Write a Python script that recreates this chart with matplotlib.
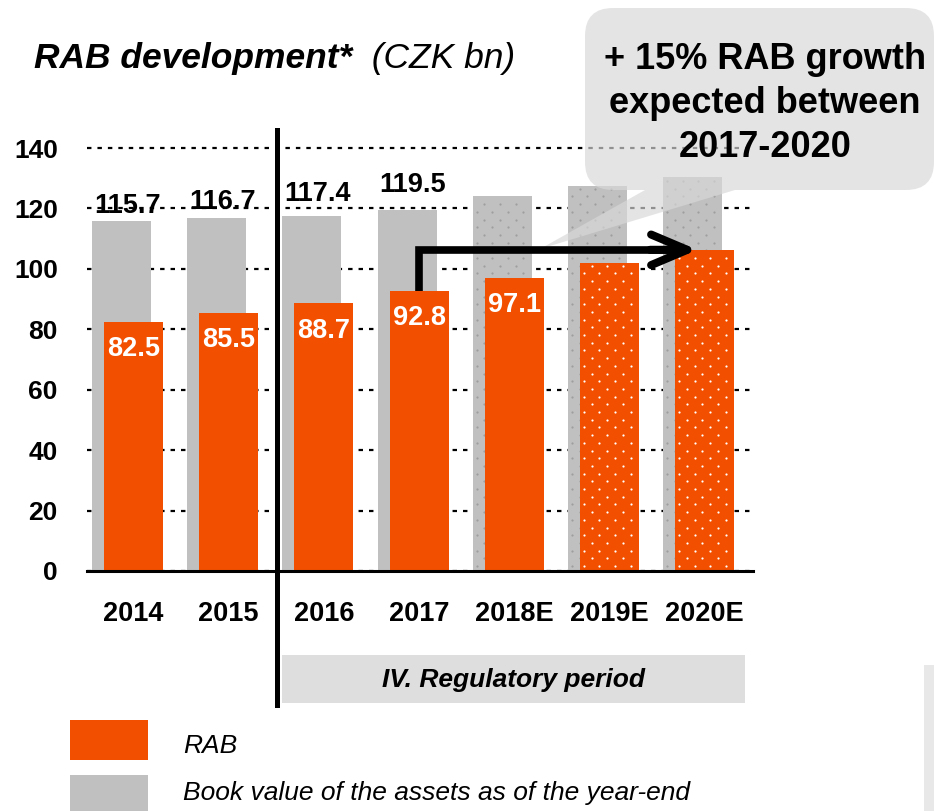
import numpy as np
import matplotlib.pyplot as plt
from matplotlib.patches import Rectangle, PathPatch
from matplotlib.path import Path
from matplotlib.lines import Line2D

plt.rcParams['font.family'] = ['Liberation Sans', 'DejaVu Sans']

# Data
years = ['2014', '2015', '2016', '2017', '2018E', '2019E', '2020E']
rab = [82.5, 85.5, 88.7, 92.8, 97.1, 102.0, 106.3]
book = [115.7, 116.7, 117.4, 119.5, 124.2, 127.5, 130.5]
rab_labels = ['82.5', '85.5', '88.7', '92.8', '97.1', '', '']
book_labels = ['115.7', '116.7', '117.4', '119.5', '', '', '']
yticks = [0, 20, 40, 60, 80, 100, 120, 140]
callout_lines = ['+ 15% RAB growth', 'expected between', '2017-2020']

# Styles
W, H = 934, 811
ORANGE = '#F25000'
GREY = '#C0C0C0'
book_pad = [6, 6.8, 10.8, 13.2]   # label offsets above the grey bars (pt)


def fx(px):
    return px / W


def fy(py):
    return 1 - py / H


fig = plt.figure(figsize=(W / 100, H / 100), dpi=100)
ax = fig.add_axes([fx(87), fy(571), (753 - 87) / W, (571 - 148) / H])

x = np.arange(len(years))
off = 0.063
bw = 0.62
grey_bars = ax.bar(x - off, book, bw, color=GREY, linewidth=0, zorder=2)
rab_bars = ax.bar(x + off, rab, bw, color=ORANGE, linewidth=0, zorder=3)

# axes styling (limits first, the dot texture below needs them)
ax.set_xlim((87 - 127.5) / 95.17, (753 - 127.5) / 95.17)
ax.set_ylim(0, 140)
ax.set_yticks(yticks)
ax.set_yticklabels([str(v) for v in yticks], fontsize=19, fontweight='bold')
ax.set_xticks(x + off)
ax.set_xticklabels(years, fontsize=19.5, fontweight='bold')
ax.tick_params(axis='y', length=0, pad=21)
ax.tick_params(axis='x', length=0, pad=21.5)
ax.yaxis.grid(True, color='black', linestyle=(0, (2.0, 2.7)), linewidth=1.6)
for gl in ax.get_ygridlines():
    gl.set_clip_on(False)
ax.set_axisbelow(True)
for s in ['left', 'right', 'top']:
    ax.spines[s].set_visible(False)
ax.spines['bottom'].set_linewidth(2.2)
ax.spines['bottom'].set_zorder(4)


def dot_texture(bar, color, z):
    # staggered dot grid inside the bar, like the estimate bars in the slide
    (px0, py0) = ax.transData.transform((bar.get_x(), 0))
    (px1, py1) = ax.transData.transform((bar.get_x() + bar.get_width(), bar.get_height()))
    pts = []
    for k, yy in enumerate(np.arange(py0 + 5, py1 - 2, 7.7)):
        for xx in np.arange(px0 + 4 + (7.8 if k % 2 else 0), px1 - 2, 15.6):
            pts.append((xx, yy))
    pts = ax.transData.inverted().transform(np.array(pts))
    ax.scatter(pts[:, 0], pts[:, 1], s=2.5, color=color, linewidths=0, zorder=z)


# estimates are dotted
for i, b in enumerate(grey_bars):
    if years[i].endswith('E'):
        dot_texture(b, '#9e9e9e', 2.1)
for i, b in enumerate(rab_bars):
    if years[i].endswith('E') and not rab_labels[i]:
        dot_texture(b, 'white', 3.1)

# value labels
for i, lab in enumerate(book_labels):
    if lab:
        ax.annotate(lab, (i, book[i]), xytext=(0, book_pad[i]),
                    textcoords='offset points', ha='center', va='baseline',
                    fontsize=19.5, fontweight='bold', zorder=4)
for i, lab in enumerate(rab_labels):
    if lab:
        ax.annotate(lab, (i + off, rab[i]), xytext=(0, -25),
                    textcoords='offset points', ha='center', va='baseline',
                    fontsize=19.5, fontweight='bold', color='white', zorder=4)

# callout bubble
L, R, T, B, r = 585, 934, 8, 190, 28
pts = [(L, T + r), (L, B - r), (L, B), (L + r, B), (645, B), (540, 249), (735, B),
       (R - r, B), (R, B), (R, B - r), (R, T + r), (R, T), (R - r, T),
       (L + r, T), (L, T), (L, T + r), (L, T + r)]
codes = [Path.MOVETO, Path.LINETO, Path.CURVE3, Path.CURVE3, Path.LINETO,
         Path.LINETO, Path.LINETO, Path.LINETO, Path.CURVE3, Path.CURVE3,
         Path.LINETO, Path.CURVE3, Path.CURVE3, Path.LINETO, Path.CURVE3,
         Path.CURVE3, Path.CLOSEPOLY]
bubble = PathPatch(Path([(fx(a), fy(b)) for a, b in pts], codes),
                   transform=fig.transFigure, facecolor='#D8D8D8', alpha=0.67,
                   edgecolor='none', zorder=5, clip_on=False)
ax.add_artist(bubble)
for line, base in zip(callout_lines, [69, 113, 157]):
    ax.text(fx(765), fy(base), line, transform=fig.transFigure, ha='center',
            va='baseline', fontsize=26, fontweight='bold', zorder=7)

# growth arrow 2017 -> 2020E
x0 = 3 + off
x1 = len(years) - 1 - 0.01
ax.plot([x0, x0, x1 - 0.3], [rab[3], rab[-1], rab[-1]], color='black', lw=5.5,
        solid_joinstyle='miter', solid_capstyle='butt', zorder=6, clip_on=False)
ax.annotate('', xy=(x1, rab[-1]), xytext=(x1 - 0.5, rab[-1]),
            arrowprops=dict(arrowstyle='->,head_length=1.3,head_width=0.55',
                            mutation_scale=20, lw=5.8, color='black',
                            shrinkA=0, shrinkB=0, capstyle='round',
                            joinstyle='round'),
            zorder=6, annotation_clip=False)

# regulatory period divider and box
fig.add_artist(Line2D([fx(277), fx(277)], [fy(130), fy(705)], lw=3.6,
                      color='black', zorder=4))
fig.add_artist(Rectangle((fx(282), fy(703)), fx(745) - fx(282), fy(655) - fy(703),
                         transform=fig.transFigure, facecolor='#DEDEDE',
                         edgecolor='none', zorder=1))
fig.text(fx(513), fy(680), 'IV. Regulatory period', ha='center', va='center',
         fontsize=19, fontweight='bold', fontstyle='italic')

# title
t1 = fig.text(fx(34), fy(68), 'RAB development*', fontsize=25.5,
              fontweight='bold', fontstyle='italic', va='baseline')
ax.annotate('  (CZK bn)', xy=(1, 0), xycoords=t1, ha='left', va='bottom',
            fontsize=25.5, fontstyle='italic', annotation_clip=False)

# legend
fig.add_artist(Rectangle((fx(70), fy(760)), fx(148) - fx(70), fy(720) - fy(760),
                         transform=fig.transFigure, facecolor=ORANGE,
                         edgecolor='none'))
fig.add_artist(Rectangle((fx(70), fy(812)), fx(148) - fx(70), fy(775) - fy(812),
                         transform=fig.transFigure, facecolor=GREY,
                         edgecolor='none'))
fig.text(fx(183), fy(746), 'RAB', fontsize=19, fontstyle='italic', va='center')
fig.text(fx(183), fy(793), 'Book value of the assets as of the year-end',
         fontsize=19, fontstyle='italic', va='center')

# grey strip bottom right
fig.add_artist(Rectangle((fx(924), 0), fx(934) - fx(924), fy(665),
                         transform=fig.transFigure, facecolor='#E8E8E8',
                         edgecolor='none'))

fig.savefig('out.png', dpi=100)
